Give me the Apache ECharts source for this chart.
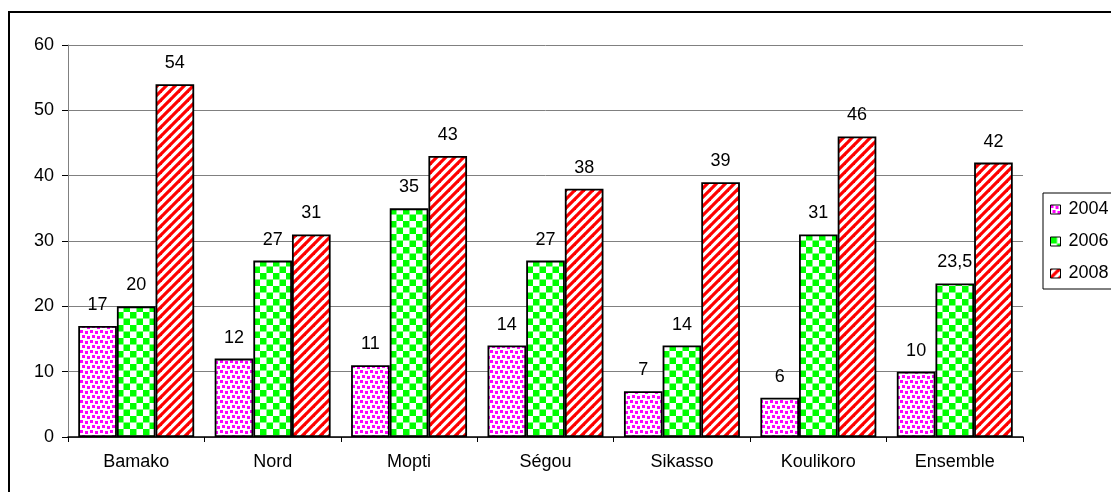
<!DOCTYPE html>
<html>
<head>
<meta charset="utf-8">
<script src="https://cdn.jsdelivr.net/npm/echarts@6/dist/echarts.min.js"></script>
<style>
  html, body { margin: 0; padding: 0; background: #fff; }
  #chart { width: 1111px; height: 492px; }
</style>
</head>
<body>
<div id="chart"></div>
<script>
// Regions and survey years
const categories = ['Bamako', 'Nord', 'Mopti', 'Ségou', 'Sikasso', 'Koulikoro', 'Ensemble'];
const years = ['2004', '2006', '2008'];
const values2004 = [17, 12, 11, 14, 7, 6, 10];
const values2006 = [20, 27, 35, 27, 14, 31, 23.5];
const values2008 = [54, 31, 43, 38, 39, 46, 42];
const yTicks = [0, 10, 20, 30, 40, 50, 60];

// Fill patterns drawn on small tiles
function tile(w, h, draw) {
  const c = document.createElement('canvas');
  c.width = w; c.height = h;
  const ctx = c.getContext('2d');
  ctx.fillStyle = '#ffffff';
  ctx.fillRect(0, 0, w, h);
  draw(ctx);
  return { image: c, repeat: 'repeat' };
}
const dotFill = tile(10, 10, ctx => {
  ctx.fillStyle = '#ff00ff';
  [[0, 0], [5, 1], [2, 5], [7, 6]].forEach(([x, y]) => ctx.fillRect(x, y, 3, 3));
});
const checkFill = tile(13, 13, ctx => {
  ctx.fillStyle = '#00ff00';
  ctx.fillRect(0, 0, 6.5, 6.5);
  ctx.fillRect(6.5, 6.5, 6.5, 6.5);
});
const stripeFill = tile(9, 9, ctx => {
  ctx.strokeStyle = '#ff0000';
  ctx.lineWidth = 3.2;
  for (let k = -1; k <= 1; k++) {
    ctx.beginPath();
    ctx.moveTo(-2 + k * 9, 11);
    ctx.lineTo(11 + k * 9, -2);
    ctx.stroke();
  }
});
const fills = [dotFill, checkFill, stripeFill];
const seriesValues = [values2004, values2006, values2008];

const font = 'Liberation Sans, Arial, sans-serif';
const fmt = v => String(v).replace('.', ',');

const chart = echarts.init(document.getElementById('chart'), null, { renderer: 'canvas' });
chart.setOption({
  animation: false,
  backgroundColor: '#ffffff',
  textStyle: { fontFamily: font, color: '#000' },
  graphic: [{
    type: 'rect',
    z: -10,
    shape: { x: 9, y: 12, width: 1300, height: 700 },
    style: { fill: 'none', stroke: '#000', lineWidth: 2 }
  }],
  grid: { left: 68, right: 88, top: 45, bottom: 55, containLabel: false },
  legend: {
    orient: 'vertical',
    left: 1043,
    top: 193,
    data: years,
    icon: 'rect',
    itemWidth: 10,
    itemHeight: 9,
    itemGap: 11,
    padding: [6, 30, 5, 7],
    borderColor: '#000',
    borderWidth: 1,
    backgroundColor: '#fff',
    textStyle: { fontFamily: font, fontSize: 18, color: '#000', lineHeight: 21, padding: [0, 0, 0, 3] },
    itemStyle: { borderColor: '#000', borderWidth: 1 }
  },
  xAxis: {
    type: 'category',
    data: categories,
    axisLine: { lineStyle: { color: '#000', width: 1.5 } },
    axisTick: { show: true, length: 5, alignWithLabel: false, lineStyle: { color: '#000' } },
    axisLabel: { fontFamily: font, fontSize: 18, color: '#000', margin: 16 }
  },
  yAxis: {
    type: 'value',
    min: yTicks[0],
    max: yTicks[yTicks.length - 1],
    interval: 10,
    axisLine: { show: true, lineStyle: { color: '#808080', width: 1 } },
    axisTick: { show: true, length: 6, lineStyle: { color: '#000' } },
    splitLine: { lineStyle: { color: '#808080', width: 1 } },
    axisLabel: { fontFamily: font, fontSize: 18, color: '#000', margin: 14 }
  },
  series: years.map((y, i) => ({
    name: y,
    type: 'bar',
    data: seriesValues[i],
    barGap: '0%',
    barCategoryGap: '15%',
    itemStyle: { color: fills[i], borderColor: '#000', borderWidth: 1.8 },
    label: {
      show: true,
      position: 'top',
      distance: 12,
      fontFamily: font,
      fontSize: 18,
      color: '#000',
      formatter: p => fmt(p.value)
    }
  }))
});
</script>
</body>
</html>
